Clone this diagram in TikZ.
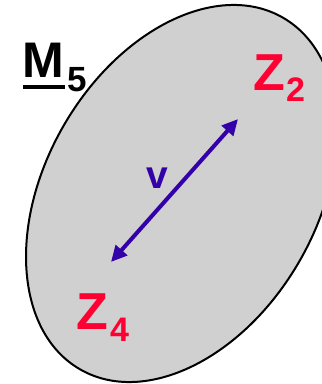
\documentclass[tikz,border=0pt]{standalone}
\usepackage{fontspec}
\setmainfont{Liberation Sans}
\usetikzlibrary{arrows.meta}
\definecolor{fillgray}{RGB}{208,208,208}
\definecolor{zred}{RGB}{255,0,51}
\definecolor{vblue}{RGB}{51,0,170}
\begin{document}
\begin{tikzpicture}[x=1pt,y=1pt,
  lbl/.style={inner sep=0pt,anchor=base west,font=\bfseries},
  big/.style={lbl,font=\bfseries\fontsize{52}{52}\selectfont},
  sub/.style={lbl,font=\bfseries\fontsize{34}{34}\selectfont},
  zlbl/.style={text=zred}]
\useasboundingbox (0,0) rectangle (322,384);
\clip (0,0) rectangle (322,384);
\draw[line width=2pt,fill=fillgray] (181.5,190.5) ellipse[x radius=203,y radius=136,rotate=60];
% M5
\node[big,font=\bfseries\fontsize{50}{50}\selectfont] (M) at (22,306) {M};
\node[sub,font=\bfseries\fontsize{35}{35}\selectfont] (M5) at (67,292) {5};
\fill (23,295) rectangle (65,299);
% Z2
\node[big,zlbl] (Z2) at (253,294) {Z};
\node[sub,zlbl] (Z2s) at (286,282) {2};
% Z4
\node[big,zlbl] (Z4) at (76,54) {Z};
\node[sub,zlbl] (Z4s) at (110,42) {4};
% v
\node[lbl,text=vblue,font=\bfseries\fontsize{39}{39}\selectfont] (v) at (146,196) {v};
% arrow
\coordinate (a) at (238,265);
\coordinate (b) at (111,122);
\draw[vblue,line width=4pt,{Triangle[length=16pt,width=15pt]}-{Triangle[length=16pt,width=15pt]}] (b) -- (a);
\end{tikzpicture}
\end{document}
